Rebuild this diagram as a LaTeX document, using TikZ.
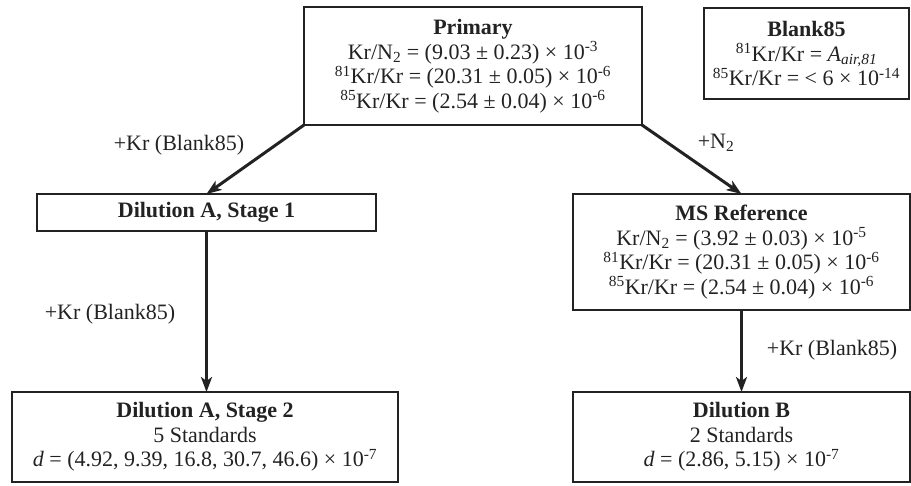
\documentclass[tikz,border=0pt]{standalone}
\usepackage{fontspec}
\setmainfont{Liberation Serif}
\usetikzlibrary{arrows.meta}
\definecolor{ink}{HTML}{222222}
\tikzset{
  box/.style={draw=ink, line width=1.1pt, rectangle, inner sep=0pt, outer sep=0pt,
    align=center, text=ink, font=\fontsize{22}{24.5}\selectfont},
  flow/.style={draw=ink, line width=3pt, -{Stealth[length=15pt,width=11pt,inset=4pt]}},
  lbl/.style={text=ink, font=\fontsize{22}{24.5}\selectfont, inner sep=0pt}
}
\newcommand{\sups}[1]{\textsuperscript{#1}}
\newcommand{\subs}[1]{\textsubscript{#1}}
\begin{document}
\begin{tikzpicture}[x=1pt,y=-1pt]
\useasboundingbox (0,0) rectangle (911,485);
\node[box, minimum width=338pt, minimum height=118pt] (P) at (473,66)
  {\textbf{Primary}\\
   Kr/N\subs{2} = (9.03 ± 0.23) × 10\sups{-3}\\
   \sups{81}Kr/Kr = (20.31 ± 0.05) × 10\sups{-6}\\
   \sups{85}Kr/Kr = (2.54 ± 0.04) × 10\sups{-6}};
\node[box, minimum width=205pt, minimum height=91pt] (B) at (806.5,53.5)
  {\textbf{Blank85}\\
   \sups{81}Kr/Kr = \textit{A}\subs{\textit{air,81}}\\
   \sups{85}Kr/Kr = < 6 × 10\sups{-14}};
\node[box, minimum width=339pt, minimum height=37pt] (A1) at (206.5,212.5)
  {\textbf{Dilution A, Stage 1}};
\node[box, minimum width=337pt, minimum height=116pt] (M) at (741.5,252)
  {\textbf{MS Reference}\\
   Kr/N\subs{2} = (3.92 ± 0.03) × 10\sups{-5}\\
   \sups{81}Kr/Kr = (20.31 ± 0.05) × 10\sups{-6}\\
   \sups{85}Kr/Kr = (2.54 ± 0.04) × 10\sups{-6}};
\node[box, minimum width=386pt, minimum height=90pt] (A2) at (205,437)
  {\textbf{Dilution A, Stage 2}\\
   5 Standards\\
   \textit{d} = (4.92, 9.39, 16.8, 30.7, 46.6) × 10\sups{-7}};
\node[box, minimum width=337pt, minimum height=90pt] (D) at (741.5,437)
  {\textbf{Dilution B}\\
   2 Standards\\
   \textit{d} = (2.86, 5.15) × 10\sups{-7}};
\draw[flow] (P.south west) -- (A1.north);
\draw[flow] (P.south east) -- (M.north);
\draw[flow] (A1.south) -- (A1.south |- A2.north);
\draw[flow] (M.south) -- (M.south |- D.north);
\node[lbl] (l1) at (179,145) {+Kr (Blank85)};
\node[lbl] (l2) at (716,143) {+N\subs{2}};
\node[lbl] (l3) at (110,314) {+Kr (Blank85)};
\node[lbl] (l4) at (832,350) {+Kr (Blank85)};
\end{tikzpicture}
\end{document}
